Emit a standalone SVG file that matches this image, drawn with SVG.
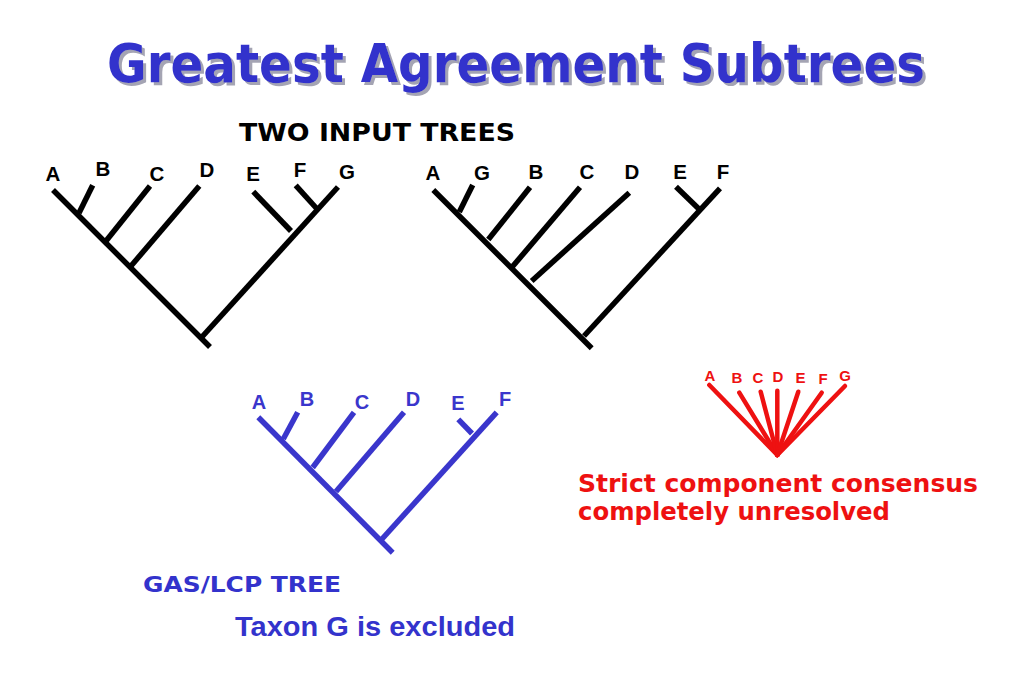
<svg xmlns="http://www.w3.org/2000/svg" width="1023" height="682" viewBox="0 0 1023 682">
<style>
.bg{fill:#ffffff}
.comic{font-family:"Comic Sans MS","DejaVu Sans","Noto Sans",sans-serif;font-weight:bold}
.lab{font-family:"Liberation Sans",Arial,sans-serif;font-weight:bold;text-anchor:middle}
.blk{stroke:#000000;stroke-width:5.5;fill:none;stroke-linecap:butt}
.blu{stroke:#3a36cc;stroke-width:5.5;fill:none;stroke-linecap:butt}
.red{stroke:#ee1111;stroke-width:4.5;fill:none;stroke-linecap:round}
</style>
<defs>
<filter id="shadow" x="-5%" y="-20%" width="110%" height="150%">
<feDropShadow dx="3" dy="3" stdDeviation="0.6" flood-color="#9a9aaa" flood-opacity="0.9"/>
</filter>
</defs>
<rect class="bg" x="0" y="0" width="1023" height="682"/>

<g id="title">
<text class="comic" x="107" y="82" font-size="53" fill="#3333cc" filter="url(#shadow)" textLength="818" lengthAdjust="spacingAndGlyphs">Greatest Agreement Subtrees</text>
</g>

<g id="heading">
<text class="comic" x="239" y="141" font-size="24" fill="#000000" textLength="276" lengthAdjust="spacingAndGlyphs">TWO INPUT TREES</text>
</g>

<g id="tree1">
<g id="tree1-labels" class="lab" font-size="20.5" fill="#000000">
<text x="53" y="181">A</text>
<text x="103" y="176">B</text>
<text x="157" y="181">C</text>
<text x="207" y="177">D</text>
<text x="253" y="181">E</text>
<text x="300" y="177">F</text>
<text x="347" y="179">G</text>
</g>
<g id="tree1-connectors" class="blk">
<line x1="53" y1="190" x2="210" y2="347"/>
<line x1="201" y1="338" x2="338" y2="187"/>
<line x1="92.7" y1="185.3" x2="79" y2="213"/>
<line x1="150" y1="186" x2="106" y2="241"/>
<line x1="199.3" y1="186" x2="131" y2="266"/>
<line x1="253.3" y1="191.7" x2="291" y2="231"/>
<line x1="295.7" y1="185.3" x2="318" y2="210"/>
</g>
</g>

<g id="tree2">
<g id="tree2-labels" class="lab" font-size="20.5" fill="#000000">
<text x="433" y="180">A</text>
<text x="482" y="180">G</text>
<text x="536" y="179">B</text>
<text x="587" y="179">C</text>
<text x="632" y="179">D</text>
<text x="680" y="179">E</text>
<text x="723" y="179">F</text>
</g>
<g id="tree2-connectors" class="blk">
<line x1="433.3" y1="190" x2="591.7" y2="348.3"/>
<line x1="584" y1="336" x2="720" y2="188.3"/>
<line x1="472.7" y1="185" x2="459.3" y2="212"/>
<line x1="530" y1="187.3" x2="488.3" y2="239.5"/>
<line x1="580" y1="187.3" x2="511.7" y2="267.5"/>
<line x1="629.3" y1="192.7" x2="531.7" y2="281"/>
<line x1="676" y1="186.7" x2="701" y2="211"/>
</g>
</g>

<g id="gas-tree">
<g id="gas-labels" class="lab" font-size="20" fill="#3a36cc">
<text x="259" y="409">A</text>
<text x="307" y="406">B</text>
<text x="362" y="409">C</text>
<text x="413" y="406">D</text>
<text x="458" y="410">E</text>
<text x="505" y="406">F</text>
</g>
<g id="gas-connectors" class="blu">
<line x1="258.3" y1="417.3" x2="392.7" y2="552.7"/>
<line x1="382" y1="539" x2="496.7" y2="412.3"/>
<line x1="297.7" y1="412.3" x2="283.3" y2="439"/>
<line x1="354" y1="412.3" x2="312.7" y2="467.5"/>
<line x1="404" y1="412.3" x2="336" y2="491.5"/>
<line x1="458.3" y1="419.3" x2="472" y2="433.5"/>
</g>
</g>

<g id="strict-tree">
<g id="strict-labels" class="lab" font-size="15" fill="#ee1111">
<text x="710" y="381">A</text>
<text x="737" y="383">B</text>
<text x="758" y="383">C</text>
<text x="778" y="382">D</text>
<text x="800.5" y="383">E</text>
<text x="823" y="384">F</text>
<text x="845" y="381">G</text>
</g>
<g id="strict-connectors" class="red">
<line x1="709.3" y1="385" x2="777.3" y2="455"/>
<line x1="739.3" y1="392.7" x2="777.3" y2="455"/>
<line x1="760.7" y1="391.7" x2="777.3" y2="455"/>
<line x1="777.3" y1="390.7" x2="777.3" y2="455"/>
<line x1="798.3" y1="391.7" x2="777.3" y2="455"/>
<line x1="821.7" y1="392.7" x2="777.3" y2="455"/>
<line x1="845" y1="386" x2="777.3" y2="455"/>
</g>
</g>

<g id="strict-caption" class="comic" font-size="24" fill="#ee1111">
<text x="578" y="492" textLength="400" lengthAdjust="spacingAndGlyphs">Strict component consensus</text>
<text x="578" y="520" textLength="312" lengthAdjust="spacingAndGlyphs">completely unresolved</text>
</g>

<g id="gas-caption">
<text class="comic" x="143" y="592" font-size="22" fill="#3333cc" textLength="198" lengthAdjust="spacingAndGlyphs">GAS/LCP TREE</text>
<text x="235" y="636" font-family="'Liberation Sans',Arial,sans-serif" font-weight="bold" font-size="27" fill="#3333cc" textLength="280" lengthAdjust="spacingAndGlyphs">Taxon G is excluded</text>
</g>
</svg>
